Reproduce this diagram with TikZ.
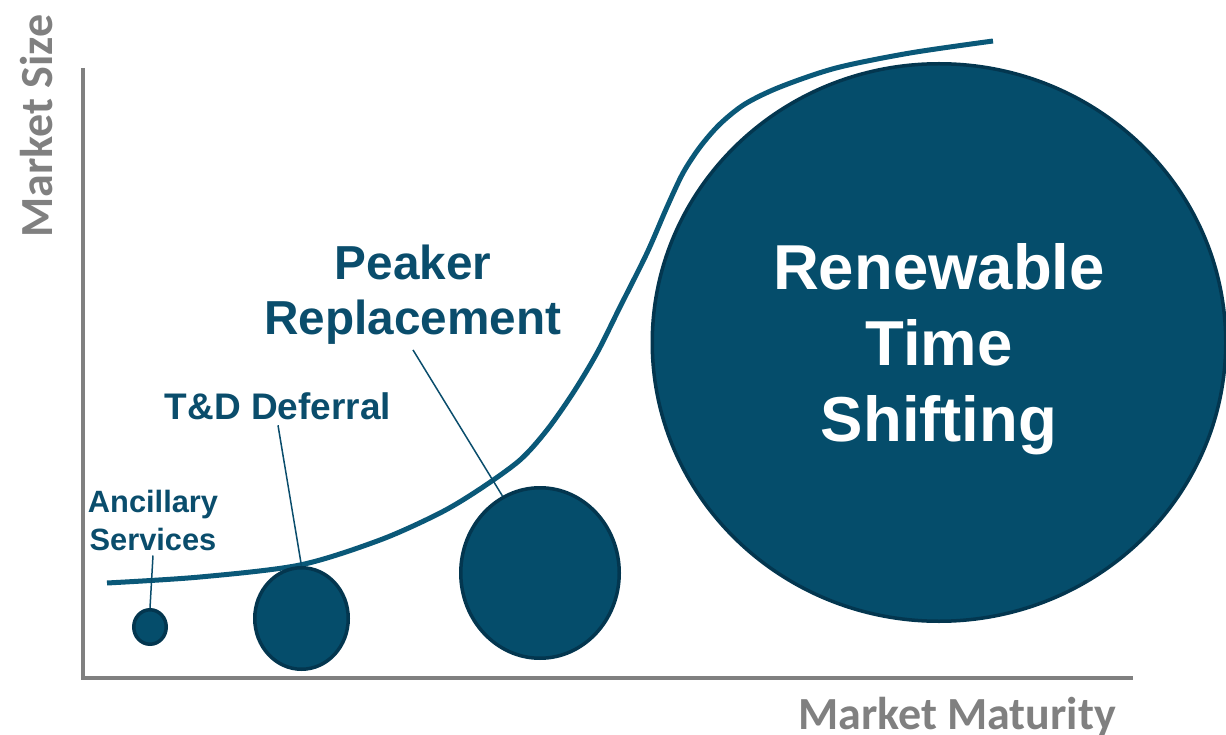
\documentclass[tikz,border=0pt]{standalone}
\usepackage{fontspec}
\setmainfont{Liberation Sans}
\newfontfamily\axisfont{Carlito}
\usepackage{tikz}
\usetikzlibrary{positioning, shapes.geometric}
\definecolor{bubblefill}{HTML}{054D6B}
\definecolor{bubbleedge}{HTML}{03364F}
\definecolor{labelblue}{HTML}{0A4D6C}
\definecolor{curveblue}{HTML}{0A5878}
\definecolor{axisgray}{HTML}{808080}

\begin{document}
\begin{tikzpicture}[x=1pt, y=-1pt,
  bubble/.style={ellipse, draw=bubbleedge, fill=bubblefill, line width=3.5pt, inner sep=0pt},
  lbl/.style={text=labelblue, align=center, inner sep=5pt},
  leader/.style={draw=labelblue, line width=1.5pt},
  axislbl/.style={text=axisgray, inner sep=0pt, font=\axisfont\bfseries\fontsize{46}{50}\selectfont}]

\useasboundingbox (0,0) rectangle (1226,735);

% axes
\coordinate (ytop) at (83,68);
\coordinate (xend) at (1133,678);
\draw[axisgray, line width=4.5pt] (ytop) |- (xend);
\node[axislbl, anchor=base, rotate=90] (ylbl) at (52,126) {Market Size};
\node[axislbl, anchor=base] (xlbl) at (957,729) {Market Maturity};

% adoption curve
\draw[curveblue, line width=5pt] plot[smooth, tension=0.5] coordinates {(107,583) (200,577) (300,565) (380,540) (440,513) (480,489) (520,460) (547,430) (573,393) (597,353) (620,307) (647,253) (667,207) (683,173) (700,147) (720,124) (745,104) (780,87) (836,68) (910,53) (993,41)};

% bubbles
\node[bubble, minimum width=32.5pt, minimum height=34.5pt] (anc) at (150,627) {};
\node[bubble, minimum width=93.5pt, minimum height=101.5pt] (td) at (301.5,618.5) {};
\node[bubble, minimum width=158.5pt, minimum height=170.5pt] (peak) at (540,573) {};
\node[bubble, minimum width=573.5pt, minimum height=557.5pt] (rts) at (939,342.5) {};

% labels
\node[lbl, font=\bfseries\fontsize{30.8}{38}\selectfont] (anclbl) at (153,520) {Ancillary\\Services};
\node[lbl, font=\bfseries\fontsize{37}{44}\selectfont] (tdlbl) at (278,406.5) {T\&D Deferral};
\node[lbl, font=\bfseries\fontsize{47.7}{55}\selectfont] (peaklbl) at (413,295) {Peaker\\Replacement};
\node[text=white, align=center, font=\bfseries\fontsize{63.5}{76}\selectfont] (rtslbl) at ([yshift=-7pt]rts.center) {Renewable\\Time\\Shifting};

\draw[leader] (anclbl.south) -- (anc.north);
\draw[leader] (tdlbl.south) -- (td.north);
\draw[leader] (peaklbl.south) -- (peak.116);

\end{tikzpicture}
\end{document}
